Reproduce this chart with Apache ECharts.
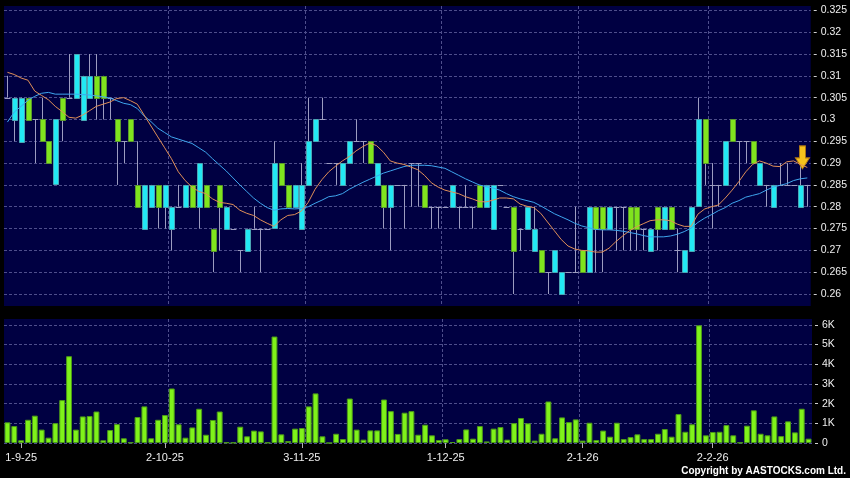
<!DOCTYPE html>
<html><head><meta charset="utf-8">
<script src="https://cdn.jsdelivr.net/npm/echarts@6/dist/echarts.min.js"></script>
<style>html,body{margin:0;padding:0;background:#000;} #c{width:850px;height:478px;}</style>
</head><body><div id="c"></div>
<script>
// ---- data ----
const tickIndex = [2, 23, 43, 64, 84, 103];
const tickLabels = ['1-9-25', '2-10-25', '3-11-25', '1-12-25', '2-1-26', '2-2-26'];
const gridLineIndex = [3, 24, 44, 64, 84, 103];
const priceTicks = [0.26, 0.265, 0.27, 0.275, 0.28, 0.285, 0.29, 0.295, 0.3, 0.305, 0.31, 0.315, 0.32, 0.325];
const volumeTicks = [0, 1, 2, 3, 4, 5, 6];
// [open, close, low, high]
const candles = [
[0.305,0.305,0.305,0.31],[0.30,0.305,0.295,0.305],[0.295,0.305,0.295,0.305],[0.305,0.30,0.30,0.305],
[0.30,0.30,0.29,0.30],[0.30,0.295,0.295,0.305],[0.295,0.29,0.29,0.295],[0.285,0.30,0.285,0.30],
[0.305,0.30,0.295,0.305],[0.305,0.305,0.305,0.315],[0.305,0.315,0.305,0.315],[0.30,0.31,0.30,0.31],
[0.305,0.31,0.305,0.315],[0.31,0.305,0.30,0.315],[0.31,0.305,0.30,0.31],[0.305,0.305,0.30,0.305],
[0.30,0.295,0.285,0.30],[0.295,0.295,0.29,0.295],[0.30,0.295,0.295,0.30],[0.285,0.28,0.28,0.295],
[0.275,0.285,0.275,0.285],[0.28,0.285,0.28,0.285],[0.285,0.28,0.275,0.285],[0.28,0.285,0.275,0.285],
[0.275,0.28,0.27,0.28],[0.28,0.28,0.28,0.285],[0.28,0.285,0.28,0.285],[0.285,0.28,0.28,0.285],
[0.28,0.29,0.275,0.29],[0.285,0.28,0.28,0.285],[0.275,0.27,0.265,0.275],[0.285,0.28,0.27,0.285],
[0.275,0.28,0.275,0.28],[0.275,0.275,0.275,0.275],[0.27,0.27,0.265,0.27],[0.27,0.275,0.27,0.275],
[0.275,0.275,0.275,0.28],[0.275,0.275,0.265,0.275],[0.275,0.275,0.275,0.275],[0.275,0.29,0.275,0.295],
[0.29,0.285,0.285,0.29],[0.285,0.28,0.28,0.285],[0.28,0.285,0.28,0.285],[0.275,0.285,0.275,0.29],
[0.285,0.295,0.285,0.305],[0.295,0.30,0.295,0.30],[0.30,0.30,0.30,0.305],[0.29,0.29,0.29,0.29],
[0.29,0.29,0.285,0.29],[0.285,0.29,0.285,0.29],[0.29,0.295,0.29,0.295],[0.295,0.295,0.295,0.30],
[0.295,0.295,0.29,0.295],[0.295,0.29,0.29,0.295],[0.285,0.29,0.285,0.29],[0.285,0.28,0.275,0.285],
[0.28,0.285,0.27,0.285],[0.285,0.285,0.285,0.285],[0.285,0.285,0.275,0.285],[0.29,0.29,0.28,0.29],
[0.29,0.29,0.28,0.29],[0.285,0.28,0.28,0.285],[0.28,0.28,0.275,0.28],[0.28,0.28,0.275,0.28],
[0.28,0.28,0.28,0.28],[0.28,0.285,0.28,0.285],[0.28,0.28,0.275,0.28],[0.28,0.28,0.28,0.285],
[0.28,0.28,0.275,0.28],[0.285,0.28,0.28,0.285],[0.28,0.285,0.28,0.285],[0.275,0.285,0.275,0.285],
[0.285,0.285,0.285,0.285],[0.28,0.28,0.28,0.28],[0.28,0.27,0.26,0.28],[0.275,0.275,0.27,0.275],
[0.275,0.28,0.275,0.28],[0.27,0.275,0.27,0.28],[0.27,0.265,0.265,0.27],[0.265,0.265,0.26,0.265],
[0.265,0.27,0.265,0.27],[0.26,0.265,0.26,0.265],[0.265,0.265,0.265,0.265],[0.265,0.265,0.265,0.28],
[0.27,0.265,0.265,0.27],[0.265,0.28,0.265,0.28],[0.28,0.275,0.265,0.28],[0.28,0.275,0.265,0.28],
[0.275,0.28,0.275,0.28],[0.28,0.28,0.27,0.28],[0.28,0.28,0.27,0.28],[0.28,0.275,0.27,0.28],
[0.28,0.275,0.27,0.28],[0.275,0.275,0.27,0.275],[0.27,0.275,0.27,0.275],[0.28,0.275,0.27,0.28],
[0.275,0.28,0.275,0.28],[0.28,0.275,0.275,0.28],[0.27,0.27,0.265,0.275],[0.265,0.27,0.265,0.27],
[0.27,0.28,0.27,0.28],[0.28,0.30,0.28,0.305],[0.30,0.29,0.285,0.30],[0.285,0.285,0.275,0.29],
[0.285,0.285,0.28,0.285],[0.285,0.295,0.285,0.295],[0.30,0.295,0.295,0.30],[0.295,0.295,0.285,0.295],
[0.295,0.295,0.29,0.295],[0.295,0.29,0.29,0.295],[0.285,0.29,0.285,0.29],[0.285,0.285,0.28,0.285],
[0.28,0.285,0.28,0.285],[0.285,0.285,0.285,0.29],[0.285,0.285,0.285,0.29],[0.285,0.285,0.285,0.285],
[0.28,0.285,0.28,0.29],[0.285,0.285,0.28,0.285]
];
const ma10 = [
0.3108,0.3103,0.3095,0.3090,0.3065,0.3055,0.3045,0.3030,0.3018,0.3005,
0.3003,0.3010,0.3020,0.3030,0.3035,0.3040,0.3048,0.3050,0.3043,0.3035,
0.3010,0.2985,0.2960,0.2935,0.2910,0.2880,0.2860,0.2845,0.2835,0.2830,
0.2818,0.2810,0.2808,0.2805,0.2792,0.2785,0.2780,0.2770,0.2762,0.2755,
0.2770,0.2780,0.2782,0.2790,0.2810,0.2840,0.2862,0.2880,0.2893,0.2905,
0.2915,0.2928,0.2938,0.2946,0.2940,0.2925,0.2905,0.2900,0.2897,0.2891,
0.2885,0.2872,0.2855,0.2845,0.2838,0.2834,0.2830,0.2823,0.2818,0.2812,
0.2811,0.2815,0.2820,0.2820,0.2818,0.2806,0.2801,0.2798,0.2785,0.2765,
0.2745,0.2725,0.2710,0.2703,0.2700,0.2699,0.2696,0.2696,0.2705,0.2720,
0.2733,0.2745,0.2754,0.2761,0.2768,0.2770,0.2770,0.2768,0.2760,0.2755,
0.2755,0.2783,0.2795,0.2800,0.2804,0.2820,0.2838,0.2858,0.2880,0.2897,
0.2905,0.2900,0.2893,0.2892,0.2903,0.2905,0.2897,0.2890
];
const ma20 = [
0.2994,0.3017,0.3030,0.3044,0.3053,0.3060,0.3062,0.3058,0.3058,0.3058,
0.3058,0.3057,0.3056,0.3054,0.3052,0.3049,0.3043,0.3037,0.3034,0.3025,
0.3008,0.2995,0.2980,0.2970,0.2960,0.2955,0.2950,0.2945,0.2935,0.2925,
0.2910,0.2896,0.2882,0.2866,0.2850,0.2835,0.2820,0.2808,0.2798,0.2792,
0.2795,0.2796,0.2795,0.2796,0.2800,0.2808,0.2815,0.2823,0.2825,0.2830,
0.2840,0.2848,0.2856,0.2863,0.2870,0.2877,0.2882,0.2887,0.2892,0.2895,
0.2895,0.2895,0.2894,0.2891,0.2888,0.2880,0.2872,0.2864,0.2857,0.2850,
0.2846,0.2843,0.2838,0.2830,0.2823,0.2818,0.2814,0.2810,0.2802,0.2793,
0.2784,0.2777,0.2770,0.2762,0.2756,0.2752,0.2748,0.2747,0.2747,0.2746,
0.2744,0.2741,0.2738,0.2734,0.2731,0.2731,0.2731,0.2733,0.2737,0.2743,
0.2751,0.2764,0.2774,0.2782,0.2791,0.2798,0.2808,0.2814,0.2822,0.2826,
0.2830,0.2838,0.2845,0.2849,0.2853,0.2860,0.2864,0.2866
];
// volume, thousands
const volumes = [
1.05,0.86,0.14,1.18,1.39,0.68,0.27,1.01,2.18,4.41,
0.68,1.35,1.37,1.60,0.14,0.66,0.96,0.24,0.03,1.32,
1.86,0.24,1.18,1.42,2.77,0.95,0.27,0.79,1.74,0.42,
1.17,1.60,0.03,0.02,0.83,0.34,0.63,0.59,0.02,5.41,
0.44,0.10,0.73,0.76,1.86,2.52,0.34,0.00,0.47,0.20,
2.26,0.68,0.17,0.64,0.64,2.21,1.62,0.46,1.54,1.62,
0.42,0.93,0.39,0.15,0.19,0.05,0.20,0.69,0.22,0.86,
0.08,0.73,0.81,0.17,1.01,1.27,1.00,0.12,0.47,2.11,
0.24,1.30,1.06,1.20,0.12,1.03,0.15,0.63,0.32,1.03,
0.20,0.30,0.44,0.20,0.20,0.47,0.71,0.32,1.47,0.57,
0.95,5.98,0.39,0.56,0.57,0.91,0.39,0.02,0.88,1.66,
0.47,0.39,1.35,0.35,1.10,0.54,1.74,0.22
];
const categories = candles.map((_, i) => String(i));

// ---- chart ----
const UP = '#22e8f4', UP_EDGE = '#4aa6b4';
const DOWN = '#80e41e', DOWN_EDGE = '#5a9a2a';
const WICK = '#9c9cc0';
const GRIDC = '#4e4e8c';
const tickSet = new Set(tickIndex);
const gridSet = new Set(gridLineIndex);
const labelMap = {};
tickIndex.forEach((k, j) => { labelMap[k] = tickLabels[j]; });
const FONT = 'Liberation Sans, Arial, sans-serif';

const chart = echarts.init(document.getElementById('c'), null, {renderer: 'canvas'});

function xAxisFor(gi, withLabels) {
  return {
    type: 'category', gridIndex: gi, data: categories, boundaryGap: true,
    axisLine: {show: false},
    axisTick: {show: withLabels, alignWithLabel: true, length: 5,
      interval: (i) => tickSet.has(i), lineStyle: {color: '#b0b0b0'}},
    axisLabel: {show: withLabels, interval: (i) => tickSet.has(i),
      formatter: (v, i) => labelMap[i] || '', color: '#eeeeee', fontSize: 11,
      fontFamily: FONT, margin: 9},
    splitLine: {show: true, showMinLine: false, showMaxLine: false,
      interval: (i) => gridSet.has(i),
      lineStyle: {color: GRIDC, type: [3, 2], width: 1}}
  };
}

const option = {
  backgroundColor: '#000000',
  animation: false,
  grid: [
    {left: 4, right: 38, top: 6, height: 300, show: true, backgroundColor: '#000042', borderWidth: 0},
    {left: 4, right: 38, top: 319, height: 124, show: true, backgroundColor: '#000042', borderWidth: 0}
  ],
  xAxis: [xAxisFor(0, false), xAxisFor(1, true)],
  yAxis: [
    {type: 'value', gridIndex: 0, position: 'right', min: 0.25725, max: 0.326, offset: 3,
      axisLine: {show: false},
      axisTick: {show: true, length: 3, customValues: priceTicks, lineStyle: {color: '#d0d0d0'}},
      axisLabel: {customValues: priceTicks, color: '#eeeeee', fontSize: 10.5, fontFamily: FONT, margin: 7,
        formatter: (v) => String(+(+v).toFixed(3))},
      splitLine: {show: true, lineStyle: {color: GRIDC, type: [3, 2], width: 1}}},
    {type: 'value', gridIndex: 1, position: 'right', min: 0, max: 6.3, offset: 3,
      axisLine: {show: false},
      axisTick: {show: true, length: 3, customValues: volumeTicks, lineStyle: {color: '#d0d0d0'}},
      axisLabel: {customValues: volumeTicks, color: '#eeeeee', fontSize: 10.5, fontFamily: FONT, margin: 7,
        formatter: (v) => (+v === 0 ? '0' : Math.round(v) + 'K')},
      splitLine: {show: true, lineStyle: {color: GRIDC, type: [3, 2], width: 1}}}
  ],
  series: [
    {
      type: 'custom', name: 'price', xAxisIndex: 0, yAxisIndex: 0, clip: true, z: 2,
      data: candles.map((d, i) => [i, d[0], d[1], d[2], d[3]]),
      encode: {x: 0, y: [1, 2, 3, 4]},
      renderItem: function (params, api) {
        const i = api.value(0);
        const o = api.value(1), c = api.value(2), l = api.value(3), h = api.value(4);
        const pO = api.coord([i, o]), pC = api.coord([i, c]);
        const pL = api.coord([i, l]), pH = api.coord([i, h]);
        const bw = api.size([1, 0])[0] * 0.86;
        const cx = Math.round(pO[0]) + 0.5;
        const children = [];
        if (h !== l) {
          children.push({type: 'line', shape: {x1: cx, y1: pH[1], x2: cx, y2: pL[1]},
            style: {stroke: WICK, lineWidth: 1}});
        }
        if (o === c) {
          const y = Math.round(pO[1]) + 0.5;
          children.push({type: 'line', shape: {x1: cx - bw / 2, y1: y, x2: cx + bw / 2, y2: y},
            style: {stroke: WICK, lineWidth: 1}});
        } else {
          const up = c > o;
          const top = Math.min(pO[1], pC[1]), bot = Math.max(pO[1], pC[1]);
          children.push({type: 'rect',
            shape: {x: Math.round(cx - bw / 2) + 0.5, y: Math.round(top) + 0.5, width: Math.round(bw) - 1, height: Math.round(bot - top)},
            style: {fill: up ? UP : DOWN, stroke: up ? UP_EDGE : DOWN_EDGE, lineWidth: 1}});
        }
        return {type: 'group', children: children};
      }
    },
    {
      type: 'line', name: 'MA10', xAxisIndex: 0, yAxisIndex: 0, data: ma10, symbol: 'none', z: 5,
      lineStyle: {color: '#e08f58', width: 1}, silent: true,
      markPoint: {
        silent: true, animation: false,
        data: [{coord: [116, 0.2913], symbol: 'path://M4,0 L10,0 L10,12 L14,12 L7,23 L0,12 L4,12 Z',
          symbolSize: [14, 23], symbolOffset: [2, 0], symbolKeepAspect: false,
          itemStyle: {color: '#f6c21c', borderColor: '#b57c12', borderWidth: 1}, label: {show: false}}]
      }
    },
    {
      type: 'line', name: 'MA20', xAxisIndex: 0, yAxisIndex: 0, data: ma20, symbol: 'none', z: 4,
      lineStyle: {color: '#3fa6ee', width: 1}, silent: true
    },
    {
      type: 'bar', name: 'Volume', xAxisIndex: 1, yAxisIndex: 1, data: volumes, barWidth: '86%',
      itemStyle: {color: '#7ff21a', borderColor: '#4c9a18', borderWidth: 1}, silent: true
    }
  ],
  graphic: [
    {type: 'text', right: 4, top: 466, silent: true,
      style: {text: 'Copyright by AASTOCKS.com Ltd.', fill: '#ffffff', font: 'bold 10px ' + FONT}}
  ]
};
chart.setOption(option);
</script>
</body></html>
